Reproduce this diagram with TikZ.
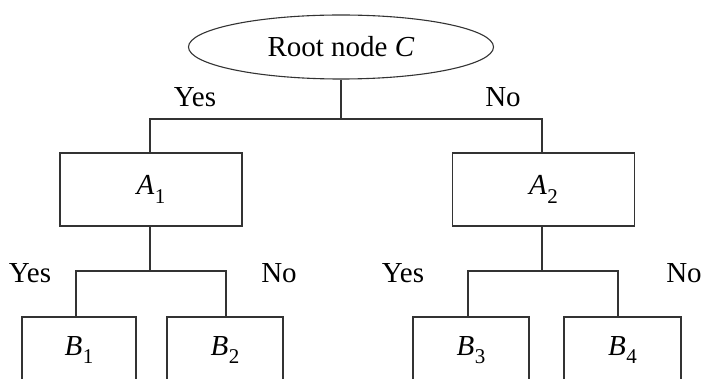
\documentclass[tikz,border=0pt]{standalone}
\usepackage{fontspec}
\setmainfont{Liberation Serif}
\usetikzlibrary{shapes.geometric}
\newcommand\isub[2]{\textit{#1}\kern0.5pt\raisebox{-0.3em}{\fontsize{21}{21}\selectfont #2}}
\tikzset{
  conn/.style={draw=black!80, line width=1.1pt},
  rootbox/.style={ellipse, draw=black!80, line width=1.1pt, minimum width=305pt, minimum height=64pt, inner sep=0pt},
  abox/.style={rectangle, draw=black!80, line width=1.1pt, minimum width=182pt, minimum height=73pt, inner sep=0pt},
  bbox/.style={rectangle, draw=black!80, line width=1.1pt, minimum width=115pt, minimum height=66pt, inner sep=0pt},
  lbl/.style={inner sep=0pt},
}
\begin{document}
\begin{tikzpicture}[x=1pt,y=-1pt,font=\fontsize{29}{32}\selectfont]
\useasboundingbox (0,0) rectangle (701,379);
\clip (0,0) rectangle (701,379);
\node[rootbox] (root) at (341,47) {Root node \textit{C}};
\node[abox] (a1) at (151,189.5) {\isub{A}{1}};
\node[abox] (a2) at (543.5,189.5) {\isub{A}{2}};
\node[bbox, minimum width=114pt] (b1) at (79,350) {\isub{B}{1}};
\node[bbox, minimum width=116pt] (b2) at (225,350) {\isub{B}{2}};
\node[bbox, minimum width=116pt] (b3) at (471,350) {\isub{B}{3}};
\node[bbox, minimum width=117pt] (b4) at (622.5,350) {\isub{B}{4}};
\coordinate (j0) at (341,119);
\coordinate (j1) at (150,271);
\coordinate (j2) at (542,271);
\draw[conn] (root.south) -- (j0);
\draw[conn] ([xshift=-1pt]a1.north) |- (j0) -| ([xshift=-1.5pt]a2.north);
\draw[conn] ([xshift=-1pt]a1.south) -- (j1);
\draw[conn] ([xshift=-3pt]b1.north) |- (j1) -| ([xshift=1pt]b2.north);
\draw[conn] ([xshift=-1.5pt]a2.south) -- (j2);
\draw[conn] ([xshift=-3pt]b3.north) |- (j2) -| ([xshift=-4.5pt]b4.north);
\node[lbl] (y0) at (195,97) {Yes};
\node[lbl] (n0) at (503,97) {No};
\node[lbl] (y1) at (30,273) {Yes};
\node[lbl] (n1) at (279,273) {No};
\node[lbl] (y2) at (403,273) {Yes};
\node[lbl] (n2) at (684,273) {No};
\end{tikzpicture}
\end{document}
